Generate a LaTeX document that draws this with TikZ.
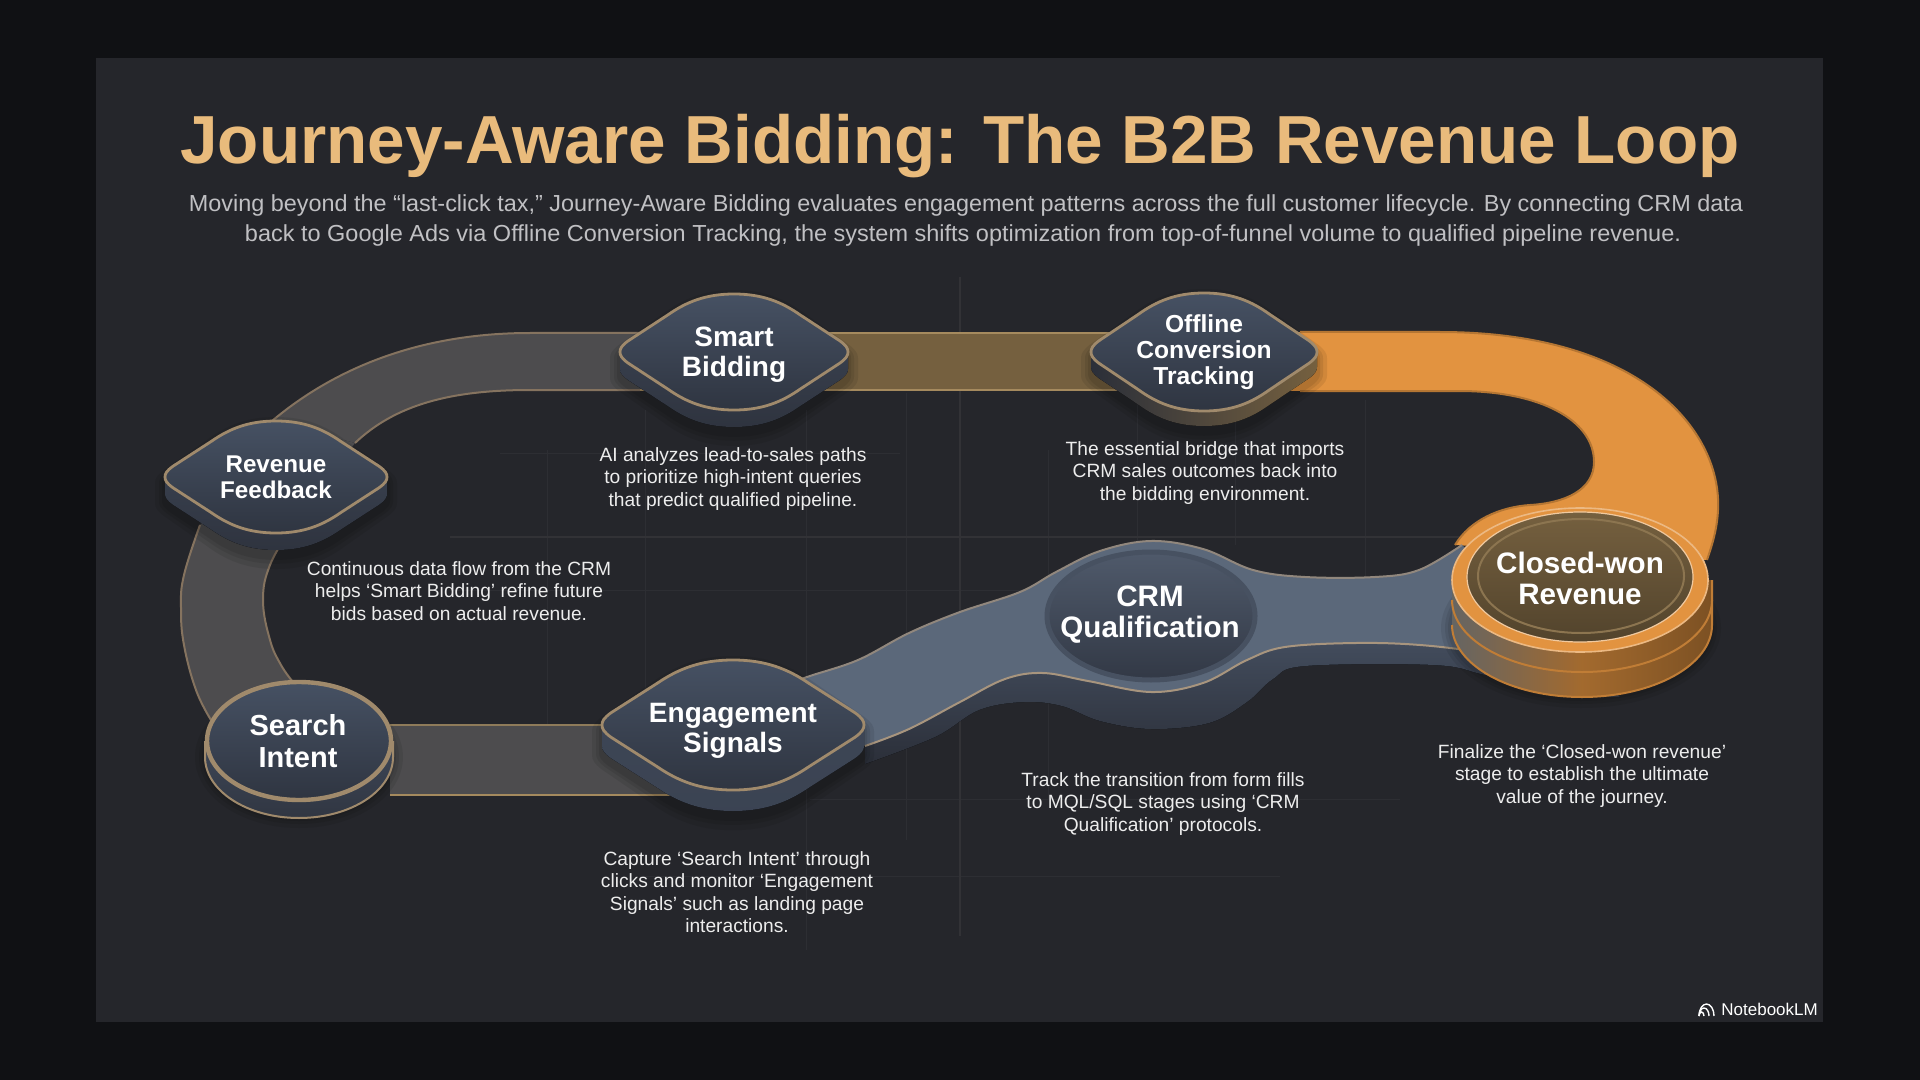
\documentclass[tikz,border=0pt]{standalone}
\usepackage{graphicx}
\usepackage{fontspec}
\setmainfont{Liberation Sans}
\usetikzlibrary{calc}
\definecolor{outerbg}{HTML}{101114}
\definecolor{panelbg}{HTML}{25262B}
\definecolor{gridc}{HTML}{2D2E33}
\definecolor{gridb}{HTML}{323236}
\definecolor{titlec}{HTML}{E9BB7C}
\definecolor{subc}{HTML}{C0C0C3}
\definecolor{capc}{HTML}{EDEDED}
\definecolor{greyrib}{HTML}{4D4C4E}
\definecolor{brownrib}{HTML}{75603F}
\definecolor{orangerib}{HTML}{E29340}
\definecolor{bluerib}{HTML}{5B687A}
\definecolor{rim}{HTML}{A08A6C}
\definecolor{rimgrey}{HTML}{85735F}
\definecolor{rimbrown}{HTML}{A58A5E}
\definecolor{rimblue}{HTML}{A8957E}
\definecolor{faceT}{HTML}{465163}
\definecolor{faceB}{HTML}{2F3541}
\definecolor{bodyT}{HTML}{3E4757}
\definecolor{bodyB}{HTML}{2B2F39}
\tikzset{
  stagelabel/.style={text=white,align=center,inner sep=0pt},
  lab25/.style={stagelabel,font={\bfseries\fontsize{12.1}{13}\selectfont}},
  lab28/.style={stagelabel,font={\bfseries\fontsize{14}{15}\selectfont}},
  lab30/.style={stagelabel,font={\bfseries\fontsize{14.8}{15.5}\selectfont}},
  caption/.style={text=capc,align=center,inner sep=0pt,font={\fontsize{9.6}{11.25}\selectfont}},
  ribedge/.style={line width=1pt,color=rimgrey},
  gridline/.style={line width=.5pt,color=gridc},
  gridbright/.style={line width=.6pt,color=gridb},
}
\newcommand\fitw[2]{\resizebox{#1}{\height}{#2}}
% rounded diamond outline, unit half-axes
\newcommand\blobtop{(-1,0) .. controls (-1,-.06) and (-.985,-.11) .. (-.93,-.19) -- (-.58,-.64) .. controls (-.42,-.86) and (-.25,-1) .. (0,-1) .. controls (.25,-1) and (.42,-.86) .. (.58,-.64) -- (.93,-.19) .. controls (.985,-.11) and (1,-.06) .. (1,0)}
\newcommand\blobbot[1]{.. controls (1,{.06+#1}) and (.985,{.11+#1}) .. (.93,{.19+#1}) -- (.58,{.64+#1}) .. controls (.42,{.86+#1}) and (.25,{1+#1}) .. (0,{1+#1}) .. controls (-.25,{1+#1}) and (-.42,{.86+#1}) .. (-.58,{.64+#1}) -- (-.93,{.19+#1}) .. controls (-.985,{.11+#1}) and (-1,{.06+#1}) .. (-1,{#1})}
% cx cy rx ry depth bodystyle
\newcommand\stagediamond[6]{%
  \pgfmathsetmacro\bd{#5/#4}%
  \foreach \g in {10,6,3}{%
    \pgfmathsetmacro\xv{(#3+\g)*0.5}%
    \pgfmathsetmacro\yv{(#4+\g)*0.5}%
    \begin{scope}[shift={(#1,#2+6)},x=\xv pt,y=-\yv pt]
      \fill[black,opacity=.08] \blobtop -- (1,\bd) \blobbot{\bd} -- cycle;
    \end{scope}}%
  \pgfmathsetmacro\xv{#3*0.5}%
  \pgfmathsetmacro\yv{#4*0.5}%
  \begin{scope}[shift={(#1,#2)},x=\xv pt,y=-\yv pt]
    \fill[#6] \blobtop -- (1,\bd) \blobbot{\bd} -- cycle;
    \path[draw=rim,line width=1.4pt,top color=faceT,bottom color=faceB] \blobtop \blobbot{0} -- cycle;
  \end{scope}}
% ribbon edges; the argument is the connector in front of the curve
\newcommand\arcOuter[1]{#1 (272,421) .. controls (335,368) and (420,333) .. (530,333) -- (640,333)}
\newcommand\arcInner[1]{#1 (640,390) -- (530,390) .. controls (450,390) and (395,405) .. (355,443)}
\newcommand\leftOuter[1]{#1 plot[smooth,tension=.7] coordinates {(200,525)(184,575)(181,608)(184,645)(196,690)(211,720)}}
\newcommand\leftInner[1]{#1 plot[smooth,tension=.7] coordinates {(293,682)(281,665)(270,640)(263,600)(270,565)(290,530)}}
\newcommand\orangeOuter[1]{#1 (1300,332) -- (1440,332) .. controls (1640,332) and (1722,430) .. (1718,510) .. controls (1717,530) and (1712,545) .. (1707,560)}
\newcommand\orangeInner[1]{#1 (1455,545) .. controls (1470,520) and (1500,507) .. (1530,505) .. controls (1565,503) and (1594,490) .. (1594,462) .. controls (1594,420) and (1540,391) .. (1459,391) -- (1300,391)}
\newcommand\blueTop[1]{#1 plot[smooth,tension=.6] coordinates {(780,688)(807,677)(858,660)(909,633)(960,612)(1020,592)(1056,572)(1100,551)(1151,541)(1203,549)(1253,570)(1305,577)(1375,577)(1419,570)(1462,545)}}
\newcommand\blueBot[1]{#1 plot[smooth,tension=.6] coordinates {(1600,672)(1561,668)(1485,653)(1420,645)(1356,643)(1285,647)(1247,660)(1203,683)(1151,692)(1088,681)(1043,673)(1005,679)(960,702)(909,729)(865,746)}}
\newcommand\blueLow[1]{#1 plot[smooth,tension=.6] coordinates {(865,764)(935,737)(979,710)(1024,702)(1062,706)(1100,721)(1151,729)(1209,723)(1247,702)(1273,679)(1305,666)(1434,665)(1485,675)(1561,693)(1620,697)}}
\begin{document}
\begin{tikzpicture}[x=.5pt,y=-.5pt]
\useasboundingbox (0,0) rectangle (1920,1080);
\fill[outerbg] (0,0) rectangle (1920,1080);
\fill[panelbg] (96,58) rectangle (1823,1022);
% faint grid
\foreach \gx/\ga/\gb in {547/450/730,645/410/750,806/410/950,906/393/840,1048/450/800,1137/390/545,1235/400/545,1365/400/620}{
  \draw[gridline] (\gx,\ga) -- (\gx,\gb);}
\foreach \gy/\ga/\gb in {453/500/900,590/450/1030,799/810/1400,876/640/1280}{
  \draw[gridline] (\ga,\gy) -- (\gb,\gy);}
\draw[gridbright] (960,277) -- (960,936);
\draw[gridbright] (450,537) -- (1510,537);
% grey ribbons
\fill[greyrib] \arcOuter{} \arcInner{--} -- cycle;
\fill[greyrib] (272,421) -- (355,443) -- (290,530) -- (200,525) -- cycle;
\fill[greyrib] \leftOuter{} \leftInner{--} -- cycle;
\draw[ribedge] \arcOuter{};
\draw[ribedge] \arcInner{};
\draw[ribedge] \leftOuter{};
\draw[ribedge] \leftInner{};
\fill[greyrib] (390,725) rectangle (700,795);
\draw[ribedge,color=rimbrown!75!greyrib] (390,725) -- (700,725);
\draw[ribedge,color=rimbrown] (390,795) -- (700,795);
% brown and orange ribbon
\fill[left color=greyrib!70!brownrib,right color=brownrib] (640,333) rectangle (740,390);
\fill[brownrib] (740,333) rectangle (1200,390);
\draw[ribedge,color=rimbrown] (640,333) -- (1200,333);
\draw[ribedge,color=rimbrown] (640,390) -- (1200,390);
\fill[orangerib] \orangeOuter{} \orangeInner{--} -- cycle;
\fill[orangerib] (1200,332) rectangle (1300,391);
\draw[line width=1pt,color=orangerib!80!black] \orangeOuter{};
\draw[line width=1pt,color=orangerib!80!black] \orangeInner{};
% blue ribbon with its thickness
\fill[top color=bodyT!85!bluerib,bottom color=bodyB] \blueBot{} \blueLow{--} -- cycle;
\fill[bluerib] \blueTop{} \blueBot{--} -- cycle;
\draw[line width=1pt,color=rimblue!70!bluerib] \blueTop{};
\draw[line width=1pt,color=rimblue] \blueBot{};
% CRM Qualification disc
\path[draw=bodyT!70!bluerib,line width=2.5pt,top color=faceT!95!white,bottom color=faceB!80!bodyT] (1151,616) ellipse [x radius=104,y radius=64];
% Closed-won stack
\foreach \g in {10,6,3}{\fill[black,opacity=.08] (1581,628) ellipse [x radius=130+\g,y radius=70+\g];}
\fill[left color=bluerib!60!brownrib,right color=orangerib!55!black,middle color=orangerib!72!black] (1452,625) arc [start angle=180,end angle=0,x radius=130,y radius=72] -- (1712,580) -- (1452,580) -- cycle;
\draw[line width=1pt,color=orangerib!85!black] (1452,625) arc [start angle=180,end angle=0,x radius=130,y radius=72] -- (1712,580);
\draw[line width=1pt,color=orangerib!85!black] (1452,600) arc [start angle=180,end angle=0,x radius=130,y radius=72];
\path[draw=orangerib!65!white,line width=.8pt,fill=orangerib] (1580,580) ellipse [x radius=128,y radius=72];
\path[draw=orangerib!50!white,line width=.6pt,top color=brownrib,bottom color=brownrib!70!black] (1580,577) ellipse [x radius=113,y radius=65];
\draw[line width=1pt,color=rimbrown!85!black] (1581,576) ellipse [x radius=103,y radius=57];
% Search Intent disc
\foreach \g in {10,6,3}{\fill[black,opacity=.08] (299,757) ellipse [x radius=94+\g,y radius=61+\g];}
\fill[top color=bodyT,bottom color=bodyB!70!bodyT] (205,741) -- (205,757) arc [start angle=180,end angle=0,x radius=94,y radius=61] -- (393,741) -- cycle;
\draw[line width=1pt,color=rim] (205,741) -- (205,757) arc [start angle=180,end angle=0,x radius=94,y radius=61] -- (393,741);
\path[draw=rim,line width=2.2pt,top color=faceT,bottom color=faceB] (299,741) ellipse [x radius=92,y radius=59];
% diamonds
\stagediamond{733}{725}{131}{65}{21}{top color=bodyT,bottom color=bodyT!85!bodyB}
\stagediamond{276}{477}{111}{56}{17}{top color=bodyT,bottom color=bodyB!80!bodyT}
\stagediamond{734}{352}{114}{58}{17}{top color=bodyT,bottom color=bodyB!80!bodyT}
\stagediamond{1204}{352}{113}{59}{15}{left color=bodyB,right color=brownrib}
% labels
\node[lab28] (nSmart) at (734,354.5) {Smart\\Bidding};
\node[lab25] (nRev) at (276,477) {Revenue\\Feedback};
\node[stagelabel,font={\bfseries\fontsize{12.3}{13}\selectfont}] (nOff) at (1204,352) {Offline\\Conversion\\Tracking};
\node[stagelabel,font={\bfseries\fontsize{14.5}{16}\selectfont}] (nSearch) at (298,741) {Search\\Intent};
\node[lab28] (nEng) at (733,730.5) {Engagement\\Signals};
\node[lab30] (nCRM) at (1150,615) {CRM\\Qualification};
\node[lab30] (nWon) at (1580,578) {Closed-won\\Revenue};
% captions
\node[caption] (cSmart) at (733,479) {AI analyzes lead-to-sales paths\\to prioritize high-intent queries\\that predict qualified pipeline.};
\node[caption] (cOff) at (1205,473) {The essential bridge that imports\\CRM sales outcomes back into\\the bidding environment.};
\node[caption] (cRev) at (459,591) {Continuous data flow from the CRM\\helps ‘Smart Bidding’ refine future\\bids based on actual revenue.};
\node[caption] (cEng) at (737,892) {Capture ‘Search Intent’ through\\clicks and monitor ‘Engagement\\Signals’ such as landing page\\interactions.};
\node[caption] (cCRM) at (1163,804) {Track the transition from form fills\\to MQL/SQL stages using ‘CRM\\Qualification’ protocols.};
\node[caption] (cWon) at (1582,776) {Finalize the ‘Closed-won revenue’\\stage to establish the ultimate\\value of the journey.};
% title
\node[anchor=base,inner sep=0pt,text=titlec,font={\bfseries\fontsize{34}{34}\selectfont}] (title) at (960,164) {\fitw{779.5pt}{Journey-Aware Bidding: The B2B Revenue Loop}};
\node[anchor=base,inner sep=0pt,text=subc,font={\fontsize{11.6}{15}\selectfont}] (sub1) at (966,212) {\fitw{777pt}{Moving beyond the “last-click tax,” Journey-Aware Bidding evaluates engagement patterns across the full customer lifecycle. By connecting CRM data}};
\node[anchor=base,inner sep=0pt,text=subc,font={\fontsize{11.6}{15}\selectfont}] (sub2) at (963,242) {\fitw{718pt}{back to Google Ads via Offline Conversion Tracking, the system shifts optimization from top-of-funnel volume to qualified pipeline revenue.}};
% NotebookLM mark
\foreach \r in {2.5,5,7.5}{\draw[white,line width=.7pt] (1699,1016) arc [start angle=180,end angle=360,x radius=\r,y radius=\r*1.6];}
\node[anchor=west,inner sep=0pt,text=white,font={\fontsize{8.5}{10}\selectfont}] (brand) at (1721,1009) {NotebookLM};
\end{tikzpicture}
\end{document}
